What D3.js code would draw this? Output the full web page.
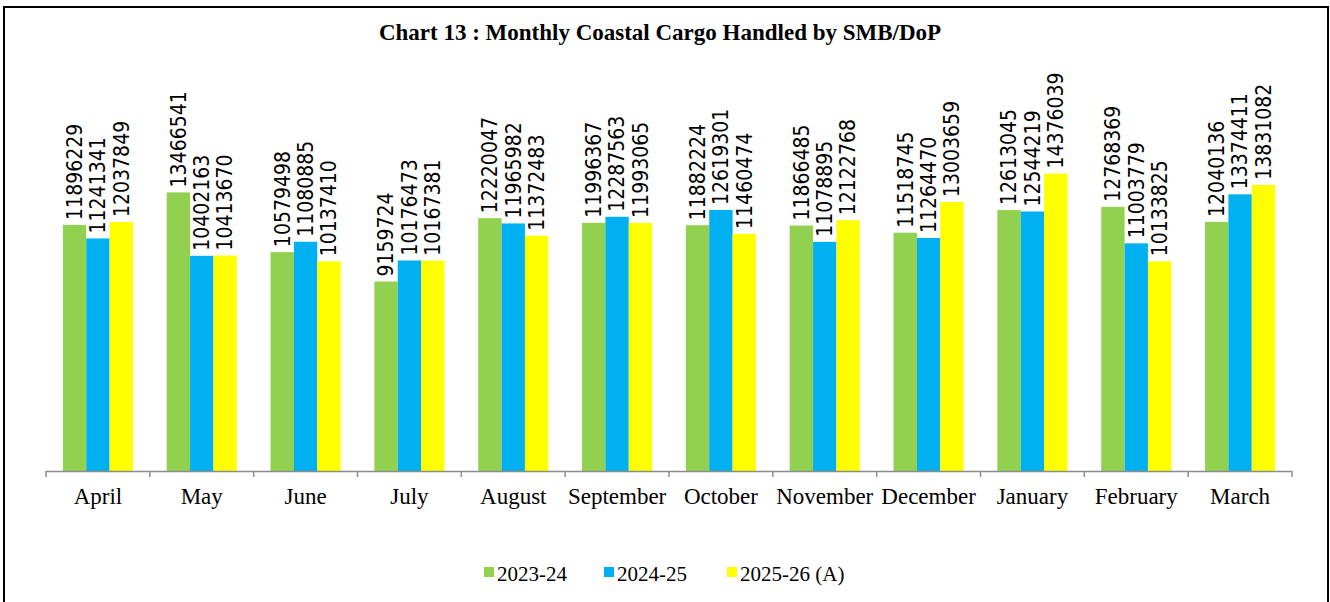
<!DOCTYPE html>
<html><head><meta charset="utf-8">
<script src="https://cdn.jsdelivr.net/npm/d3@7"></script>
<style>body{margin:0;background:#fff;}svg{display:block;}</style>
</head><body>
<svg id="c" width="1330" height="602"></svg>
<script>
const months = ["April","May","June","July","August","September","October","November","December","January","February","March"];
const seriesNames = ["2023-24","2024-25","2025-26 (A)"];
const s2023 = [11896229,13466541,10579498,9159724,12220047,11996367,11882224,11866485,11518745,12613045,12768369,12040136];
const s2024 = [11241341,10402163,11080885,10176473,11965982,12287563,12619301,11078895,11264470,12544219,11003779,13374411];
const s2025 = [12037849,10413670,10137410,10167381,11372483,11993065,11460474,12122768,13003659,14376039,10133825,13831082];
const colors = ["#92D050","#00B0F0","#FFFF00"];
const title = "Chart 13 : Monthly Coastal Cargo Handled by SMB/DoP";

const svg = d3.select("#c");
svg.append("rect").attr("x",4).attr("y",7).attr("width",1324).attr("height",610)
  .attr("fill","none").attr("stroke","#000").attr("stroke-width",2);

svg.append("text").attr("x",660).attr("y",40).attr("text-anchor","middle")
  .attr("font-family","Liberation Serif, Times New Roman, serif").attr("font-weight","bold")
  .attr("font-size",23).attr("fill","#000").text(title);

const left=46,right=1292,base=471;
const x0 = d3.scaleBand().domain(months).range([left,right]).paddingInner(0.325).paddingOuter(0.1625);
const x1 = d3.scaleBand().domain(seriesNames).range([0,x0.bandwidth()]);
const y = d3.scaleLinear().domain([0,16000000]).range([base,140]);

const data = [s2023,s2024,s2025];
const g = svg.append("g");
seriesNames.forEach((name,si)=>{
  g.selectAll(null).data(months).enter().append("rect")
    .attr("x",m=>x0(m)+x1(name)).attr("width",x1.bandwidth())
    .attr("y",(m,i)=>y(data[si][i])).attr("height",(m,i)=>base-y(data[si][i]))
    .attr("fill",colors[si]);
  g.selectAll(null).data(months).enter().append("text")
    .attr("transform",(m,i)=>`translate(${x0(m)+x1(name)+x1.bandwidth()/2},${y(data[si][i])-5}) rotate(-90)`)
    .attr("dy","0.35em")
    .attr("font-family","Liberation Sans Narrow, DejaVu Sans Condensed, Arial Narrow, sans-serif")
    .attr("font-stretch","condensed")
    .attr("font-size",21).attr("fill","#000")
    .text((m,i)=>data[si][i]);
});

// axis
const step = x0.step();
const ax = svg.append("g");
ax.append("line").attr("x1",left).attr("x2",right).attr("y1",base+0.5).attr("y2",base+0.5)
  .attr("stroke","#8c8c8c").attr("stroke-width",1.5);
const bounds = d3.range(months.length+1).map(i=>left+i*step);
ax.selectAll(null).data(bounds).enter().append("line")
  .attr("x1",d=>d).attr("x2",d=>d).attr("y1",base).attr("y2",base+6)
  .attr("stroke","#8c8c8c").attr("stroke-width",1.5);
ax.selectAll(null).data(months).enter().append("text")
  .attr("x",m=>x0(m)+x0.bandwidth()/2).attr("y",504).attr("text-anchor","middle")
  .attr("font-family","Liberation Serif, Times New Roman, serif").attr("font-size",23).attr("fill","#000")
  .text(m=>m);

// legend
const legX = [484,604,727];
const lg = svg.append("g");
seriesNames.forEach((name,i)=>{
  lg.append("rect").attr("x",legX[i]).attr("y",567).attr("width",10).attr("height",10).attr("fill",colors[i]);
  lg.append("text").attr("x",legX[i]+13).attr("y",581)
    .attr("font-family","Liberation Serif, Times New Roman, serif").attr("font-size",21).attr("fill","#000")
    .text(name);
});
</script>
</body></html>
